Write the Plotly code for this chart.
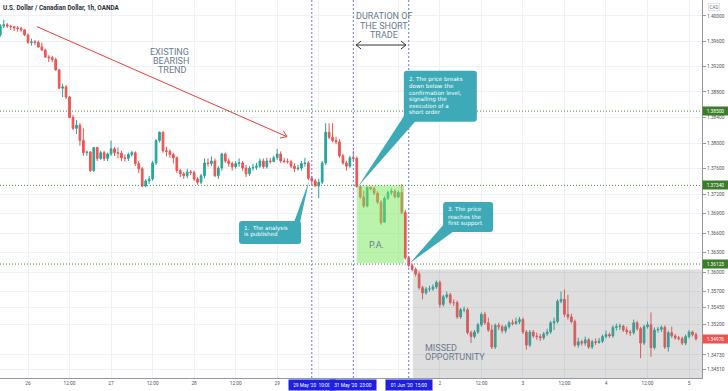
import math
import pandas as pd
import plotly.graph_objects as go

# ---------------- data ----------------
session_a = pd.date_range("2020-05-25 16:00", "2020-05-29 20:00", freq="h")
session_b = pd.date_range("2020-05-31 22:00", "2020-06-05 02:00", freq="h")
times = [t.strftime("%Y-%m-%d %H:%M") for t in list(session_a) + list(session_b)]

opens = [
    1.3970, 1.3984, 1.3986, 1.3984, 1.3983, 1.3981, 1.3980, 1.3978, 1.3970, 1.3958,
    1.3959, 1.3958, 1.3951, 1.3946, 1.3935, 1.3934, 1.3931, 1.3915, 1.3886, 1.3888,
    1.3872, 1.3840, 1.3823, 1.3828, 1.3804, 1.3785, 1.3786, 1.3757, 1.3793, 1.3776,
    1.3785, 1.3776, 1.3783, 1.3791, 1.3785, 1.3784, 1.3777, 1.3776, 1.3782, 1.3785,
    1.3768, 1.3760, 1.3733, 1.3741, 1.3744, 1.3769, 1.3804, 1.3817, 1.3788, 1.3787,
    1.3782, 1.3777, 1.3757, 1.3752, 1.3749, 1.3755, 1.3754, 1.3744, 1.3739, 1.3749,
    1.3769, 1.3768, 1.3772, 1.3749, 1.3761, 1.3783, 1.3772, 1.3768, 1.3763, 1.3768,
    1.3769, 1.3761, 1.3752, 1.3761, 1.3762, 1.3764, 1.3772, 1.3763, 1.3772, 1.3771,
    1.3777, 1.3783, 1.3772, 1.3771, 1.3771, 1.3764, 1.3760, 1.3761, 1.3768, 1.3769,
    1.3745, 1.3741, 1.3733, 1.3739, 1.3769, 1.3817, 1.3809, 1.3804, 1.3802, 1.3780,
    1.3769, 1.3764, 1.3777, 1.3776, 1.3732, 1.3716, 1.3702, 1.3731, 1.3729, 1.3722,
    1.3708, 1.3677, 1.3714, 1.3723, 1.3725, 1.3716, 1.3723, 1.3692, 1.3622, 1.3610,
    1.3604, 1.3597, 1.3576, 1.3568, 1.3574, 1.3574, 1.3577, 1.3584, 1.3550, 1.3562,
    1.3565, 1.3553, 1.3553, 1.3531, 1.3542, 1.3542, 1.3507, 1.3501, 1.3508, 1.3519,
    1.3535, 1.3522, 1.3511, 1.3485, 1.3518, 1.3516, 1.3510, 1.3516, 1.3522, 1.3521,
    1.3524, 1.3527, 1.3508, 1.3488, 1.3508, 1.3502, 1.3501, 1.3499, 1.3505, 1.3508,
    1.3522, 1.3524, 1.3555, 1.3558, 1.3535, 1.3531, 1.3524, 1.3488, 1.3493, 1.3491,
    1.3496, 1.3485, 1.3493, 1.3492, 1.3494, 1.3501, 1.3504, 1.3502, 1.3515, 1.3516,
    1.3517, 1.3511, 1.3508, 1.3507, 1.3522, 1.3513, 1.3491, 1.3516, 1.3519, 1.3484,
    1.3511, 1.3512, 1.3515, 1.3485, 1.3507, 1.3502, 1.3499, 1.3498, 1.3491, 1.3501,
    1.3508, 1.3504,
]
highs = [
    1.3987, 1.3994, 1.3989, 1.3986, 1.3984, 1.3984, 1.3983, 1.3979, 1.3972, 1.3964,
    1.3962, 1.3961, 1.3958, 1.3948, 1.3938, 1.3937, 1.3934, 1.3916, 1.3893, 1.3891,
    1.3874, 1.3844, 1.3836, 1.3831, 1.3823, 1.3788, 1.3787, 1.3794, 1.3794, 1.3788,
    1.3788, 1.3785, 1.3804, 1.3794, 1.3793, 1.3788, 1.3782, 1.3785, 1.3788, 1.3787,
    1.3772, 1.3763, 1.3744, 1.3749, 1.3772, 1.3806, 1.3818, 1.3818, 1.3794, 1.3790,
    1.3785, 1.3779, 1.3760, 1.3755, 1.3760, 1.3758, 1.3757, 1.3747, 1.3752, 1.3776,
    1.3776, 1.3779, 1.3776, 1.3764, 1.3785, 1.3785, 1.3776, 1.3771, 1.3772, 1.3776,
    1.3772, 1.3766, 1.3764, 1.3768, 1.3769, 1.3776, 1.3776, 1.3777, 1.3777, 1.3780,
    1.3791, 1.3787, 1.3777, 1.3776, 1.3774, 1.3768, 1.3766, 1.3772, 1.3777, 1.3772,
    1.3749, 1.3744, 1.3744, 1.3772, 1.3831, 1.3831, 1.3831, 1.3810, 1.3806, 1.3783,
    1.3772, 1.3780, 1.3788, 1.3779, 1.3733, 1.3726, 1.3732, 1.3732, 1.3732, 1.3725,
    1.3711, 1.3717, 1.3726, 1.3729, 1.3728, 1.3726, 1.3736, 1.3696, 1.3625, 1.3613,
    1.3607, 1.3601, 1.3579, 1.3577, 1.3579, 1.3581, 1.3587, 1.3587, 1.3565, 1.3570,
    1.3568, 1.3558, 1.3556, 1.3545, 1.3547, 1.3545, 1.3510, 1.3511, 1.3522, 1.3538,
    1.3539, 1.3530, 1.3519, 1.3521, 1.3522, 1.3519, 1.3519, 1.3525, 1.3527, 1.3530,
    1.3531, 1.3530, 1.3511, 1.3511, 1.3511, 1.3507, 1.3505, 1.3508, 1.3513, 1.3525,
    1.3530, 1.3558, 1.3570, 1.3573, 1.3565, 1.3536, 1.3527, 1.3499, 1.3496, 1.3501,
    1.3499, 1.3496, 1.3498, 1.3499, 1.3504, 1.3510, 1.3507, 1.3518, 1.3521, 1.3521,
    1.3519, 1.3516, 1.3511, 1.3527, 1.3525, 1.3516, 1.3519, 1.3524, 1.3538, 1.3515,
    1.3516, 1.3518, 1.3518, 1.3510, 1.3516, 1.3505, 1.3502, 1.3501, 1.3504, 1.3511,
    1.3510, 1.3507,
]
lows = [
    1.3967, 1.3981, 1.3981, 1.3978, 1.3976, 1.3975, 1.3975, 1.3968, 1.3956, 1.3953,
    1.3954, 1.3950, 1.3945, 1.3934, 1.3927, 1.3927, 1.3913, 1.3885, 1.3872, 1.3869,
    1.3839, 1.3820, 1.3814, 1.3796, 1.3780, 1.3780, 1.3755, 1.3755, 1.3772, 1.3774,
    1.3772, 1.3772, 1.3780, 1.3780, 1.3776, 1.3772, 1.3771, 1.3772, 1.3779, 1.3764,
    1.3753, 1.3731, 1.3731, 1.3736, 1.3741, 1.3766, 1.3801, 1.3785, 1.3779, 1.3777,
    1.3768, 1.3753, 1.3747, 1.3744, 1.3745, 1.3750, 1.3741, 1.3735, 1.3736, 1.3745,
    1.3763, 1.3764, 1.3747, 1.3744, 1.3757, 1.3769, 1.3763, 1.3757, 1.3760, 1.3763,
    1.3757, 1.3747, 1.3749, 1.3757, 1.3758, 1.3761, 1.3760, 1.3760, 1.3768, 1.3771,
    1.3774, 1.3769, 1.3769, 1.3768, 1.3761, 1.3755, 1.3757, 1.3757, 1.3763, 1.3742,
    1.3735, 1.3732, 1.3714, 1.3736, 1.3766, 1.3806, 1.3801, 1.3798, 1.3777, 1.3766,
    1.3757, 1.3761, 1.3772, 1.3731, 1.3713, 1.3699, 1.3700, 1.3726, 1.3719, 1.3705,
    1.3673, 1.3676, 1.3711, 1.3719, 1.3714, 1.3714, 1.3689, 1.3619, 1.3607, 1.3601,
    1.3593, 1.3573, 1.3558, 1.3565, 1.3570, 1.3571, 1.3574, 1.3545, 1.3547, 1.3559,
    1.3550, 1.3548, 1.3528, 1.3528, 1.3538, 1.3504, 1.3491, 1.3498, 1.3505, 1.3516,
    1.3519, 1.3508, 1.3482, 1.3482, 1.3511, 1.3506, 1.3506, 1.3513, 1.3518, 1.3519,
    1.3520, 1.3505, 1.3481, 1.3485, 1.3499, 1.3496, 1.3494, 1.3496, 1.3502, 1.3505,
    1.3511, 1.3521, 1.3552, 1.3531, 1.3527, 1.3521, 1.3485, 1.3484, 1.3487, 1.3487,
    1.3482, 1.3482, 1.3488, 1.3490, 1.3491, 1.3498, 1.3499, 1.3499, 1.3510, 1.3511,
    1.3508, 1.3504, 1.3502, 1.3504, 1.3510, 1.3468, 1.3488, 1.3513, 1.3470, 1.3481,
    1.3507, 1.3508, 1.3482, 1.3478, 1.3499, 1.3496, 1.3495, 1.3488, 1.3488, 1.3498,
    1.3501, 1.3495,
]
closes = [
    1.3984, 1.3986, 1.3984, 1.3983, 1.3981, 1.3980, 1.3978, 1.3970, 1.3958, 1.3959,
    1.3958, 1.3951, 1.3946, 1.3935, 1.3934, 1.3931, 1.3915, 1.3886, 1.3888, 1.3872,
    1.3840, 1.3823, 1.3828, 1.3804, 1.3785, 1.3786, 1.3757, 1.3793, 1.3776, 1.3785,
    1.3776, 1.3783, 1.3791, 1.3785, 1.3784, 1.3777, 1.3776, 1.3782, 1.3785, 1.3768,
    1.3760, 1.3733, 1.3741, 1.3744, 1.3769, 1.3804, 1.3817, 1.3788, 1.3787, 1.3782,
    1.3777, 1.3757, 1.3752, 1.3749, 1.3755, 1.3754, 1.3744, 1.3739, 1.3749, 1.3769,
    1.3768, 1.3772, 1.3749, 1.3761, 1.3783, 1.3772, 1.3768, 1.3763, 1.3768, 1.3769,
    1.3761, 1.3752, 1.3761, 1.3762, 1.3764, 1.3772, 1.3763, 1.3772, 1.3771, 1.3777,
    1.3783, 1.3772, 1.3771, 1.3771, 1.3764, 1.3760, 1.3761, 1.3768, 1.3769, 1.3745,
    1.3741, 1.3733, 1.3739, 1.3769, 1.3817, 1.3809, 1.3804, 1.3802, 1.3780, 1.3769,
    1.3764, 1.3777, 1.3776, 1.3732, 1.3716, 1.3702, 1.3731, 1.3729, 1.3722, 1.3708,
    1.3676, 1.3714, 1.3723, 1.3725, 1.3716, 1.3723, 1.3692, 1.3622, 1.3610, 1.3604,
    1.3597, 1.3576, 1.3568, 1.3574, 1.3574, 1.3577, 1.3584, 1.3550, 1.3562, 1.3565,
    1.3553, 1.3553, 1.3531, 1.3542, 1.3542, 1.3507, 1.3501, 1.3508, 1.3519, 1.3535,
    1.3522, 1.3511, 1.3485, 1.3518, 1.3516, 1.3510, 1.3516, 1.3522, 1.3521, 1.3524,
    1.3527, 1.3508, 1.3488, 1.3508, 1.3502, 1.3501, 1.3499, 1.3505, 1.3508, 1.3522,
    1.3524, 1.3555, 1.3558, 1.3535, 1.3531, 1.3524, 1.3488, 1.3493, 1.3491, 1.3496,
    1.3485, 1.3493, 1.3492, 1.3494, 1.3501, 1.3504, 1.3502, 1.3515, 1.3516, 1.3517,
    1.3511, 1.3508, 1.3507, 1.3522, 1.3513, 1.3491, 1.3516, 1.3519, 1.3484, 1.3511,
    1.3512, 1.3515, 1.3485, 1.3507, 1.3502, 1.3499, 1.3498, 1.3491, 1.3501, 1.3508,
    1.3504, 1.34976,
]

x_tick_times = ["2020-05-26 00:00", "2020-05-26 12:00", "2020-05-27 00:00", "2020-05-27 12:00",
                "2020-05-28 00:00", "2020-05-28 12:00", "2020-05-29 00:00", "2020-05-29 12:00",
                "2020-06-01 00:00", "2020-06-01 12:00", "2020-06-02 00:00", "2020-06-02 12:00",
                "2020-06-03 00:00", "2020-06-03 12:00", "2020-06-04 00:00", "2020-06-04 12:00",
                "2020-06-05 00:00"]
x_tick_labels = ["26", "12:00", "27", "12:00", "28", "12:00", "29", "", "", "",
                 "2", "12:00", "3", "12:00", "4", "12:00", "5"]

y_tick_values = [1.40000, 1.39600, 1.39200, 1.38800, 1.38400, 1.38000, 1.37600, 1.37200,
                 1.36900, 1.36600, 1.36300, 1.36000, 1.35700, 1.35450, 1.35200,
                 1.34730, 1.34510]
y_tick_labels = ["%.5f" % v for v in y_tick_values]

levels = [1.38500, 1.37340, 1.36123]
last_price = 1.34976
event_times = ["2020-05-29 10:00", "2020-05-31 23:00", "2020-06-01 15:00"]
event_labels = ["29 May '20  10:00", "31 May '20  23:00", "01 Jun '20  15:00"]

title_text = "U.S. Dollar / Canadian Dollar, 1h, OANDA"

# ---------------- styling ----------------
UP = "#26a69a"
DOWN = "#ef5350"
TEAL = "#3eaab7"
TXT = "#6b7a8f"
GRID = "#eff1f5"
AXIS = "#9598a1"
FONT = "Roboto"
CALLOUT_FONT = "DejaVu Sans"

idx = {t: k for k, t in enumerate(times)}


def ly(p):
    return math.log10(p)


fig = go.Figure()
fig.add_trace(go.Candlestick(
    x=times, open=opens, high=highs, low=lows, close=closes,
    increasing=dict(line=dict(color=UP, width=1), fillcolor=UP),
    decreasing=dict(line=dict(color=DOWN, width=1), fillcolor=DOWN),
    whiskerwidth=0, hoverinfo="skip", showlegend=False,
))

shapes = []
# missed opportunity (grey) and price action (green) zones
shapes.append(dict(type="rect", xref="x", yref="y", x0=119.2, x1=206, y0=1.3604, y1=1.3420,
                   fillcolor="rgba(128,128,128,0.26)", line=dict(width=0), layer="above"))
shapes.append(dict(type="rect", xref="x", yref="y", x0=103.06, x1=116.64, y0=levels[1], y1=1.36135,
                   fillcolor="rgba(120,230,90,0.5)", line=dict(width=0), layer="above"))
# horizontal levels
for lv in levels:
    shapes.append(dict(type="line", xref="paper", yref="y", x0=0, x1=1, y0=lv, y1=lv,
                       line=dict(color="#4f8a3c", width=1, dash="1px,2px"), layer="above"))
# vertical event lines
for t in event_times:
    shapes.append(dict(type="line", xref="x", yref="paper", x0=idx[t], x1=idx[t], y0=0, y1=1,
                       line=dict(color="#7272e4", width=1, dash="2px,2px"), layer="above"))
# red trend arrow
shapes.append(dict(type="line", xref="x", yref="y", x0=10.6, y0=1.3983, x1=82.8, y1=1.3810,
                   line=dict(color="#ef3b3b", width=1), layer="above"))
shapes.append(dict(type="path", xref="x", yref="y", xsizemode="pixel", ysizemode="pixel",
                   xanchor=82.8, yanchor=1.3810, path="M -6.9,-1.4 L 0,0 L -3.6,6.0",
                   line=dict(color="#ef3b3b", width=1), fillcolor="rgba(0,0,0,0)", layer="above"))
# duration double arrow
shapes.append(dict(type="line", xref="x", yref="y", x0=102.8, y0=1.3954, x1=117.2, y1=1.3954,
                   line=dict(color="#333333", width=1), layer="above"))
shapes.append(dict(type="path", xref="x", yref="y", xsizemode="pixel", ysizemode="pixel",
                   xanchor=102.8, yanchor=1.3954, path="M 5,4 L 0,0 L 5,-4",
                   line=dict(color="#333333", width=1), fillcolor="rgba(0,0,0,0)", layer="above"))
shapes.append(dict(type="path", xref="x", yref="y", xsizemode="pixel", ysizemode="pixel",
                   xanchor=117.2, yanchor=1.3954, path="M -5,4 L 0,0 L -5,-4",
                   line=dict(color="#333333", width=1), fillcolor="rgba(0,0,0,0)", layer="above"))


def rrect(x0, x1, yb, yt, r=3):
    return (f"M {x0+r},{yt} L {x1-r},{yt} Q {x1},{yt} {x1},{yt-r} L {x1},{yb+r} "
            f"Q {x1},{yb} {x1-r},{yb} L {x0+r},{yb} Q {x0},{yb} {x0},{yb+r} "
            f"L {x0},{yt-r} Q {x0},{yt} {x0+r},{yt} Z")


callouts = [
    dict(anchor=(89.2, 1.3741), box=(-70, -8, -63, -40), ptr="M -15,-41 L 0,0 L -9,-41 Z",
         lines=["1.  The analysis", "is published"], dx=-66, dys=[-47.3, -53.8]),
    dict(anchor=(103.3, 1.3732), box=(46, 119, 65, 116), ptr="M 47,72 L 0,0 L 58,66 Z",
         lines=["2. The price breaks", "down below the", "confirmation level,", "signalling the",
                "execution of a", "short order"], dx=50, dys=[107, 100.5, 94, 87.5, 81, 74.5]),
    dict(anchor=(118.4, 1.3614), box=(33, 83, 31, 61), ptr="M 34,39 L 0,0 L 44,32 Z",
         lines=["3. The price", "reaches the", "first support"], dx=37, dys=[53, 46.3, 39.8]),
]
annotations = []
for c in callouts:
    ax_, ay_ = c["anchor"]
    for p in (rrect(*c["box"]), c["ptr"]):
        shapes.append(dict(type="path", xref="x", yref="y", xsizemode="pixel", ysizemode="pixel",
                           xanchor=ax_, yanchor=ay_, path=p, fillcolor=TEAL,
                           line=dict(width=0), layer="above"))
    for line, dy in zip(c["lines"], c["dys"]):
        annotations.append(dict(x=ax_, y=ly(ay_), xref="x", yref="y", xshift=c["dx"], yshift=dy,
                                text=line, showarrow=False, xanchor="left", yanchor="middle",
                                borderpad=0,
                                font=dict(family=CALLOUT_FONT, size=5.6, color="white")))

# big labels
big = [("EXISTING", 49.0, 1.3943, "center"), ("BEARISH", 49.3, 1.3929, "center"),
       ("TREND", 49.5, 1.3915, "center"),
       ("DURATION OF", 111.0, 1.4000, "center"), ("THE SHORT", 111.0, 1.3984, "center"),
       ("TRADE", 111.0, 1.3970, "center"),
       ("P.A.", 108.8, 1.3642, "center"),
       ("MISSED", 122.1, 1.3484, "left"), ("OPPORTUNITY", 122.1, 1.3470, "left")]
for txt, xi, p, anc in big:
    annotations.append(dict(x=xi, y=ly(p), xref="x", yref="y", text=txt, showarrow=False,
                            xanchor=anc, yanchor="middle",
                            font=dict(family=FONT, size=9, color=TXT)))

# title
annotations.append(dict(x=0, y=1, xref="paper", yref="paper", xshift=1, yshift=-1.5, text=title_text,
                        showarrow=False, xanchor="left", yanchor="top",
                        font=dict(family=FONT, size=6.4, color="#2a2e39", weight="bold")))
# CAD box
annotations.append(dict(x=1, y=1, xref="paper", yref="paper", xshift=12, yshift=-3, text="CAD",
                        showarrow=False, xanchor="center", yanchor="top", bordercolor="#d1d4dc",
                        borderwidth=0.6, borderpad=1, bgcolor="white",
                        font=dict(family=FONT, size=4.5, color="#6a6d78")))
# level price labels
for lv in levels:
    annotations.append(dict(x=1, y=ly(lv), xref="paper", yref="y", text="%.5f" % lv, showarrow=False,
                            xanchor="left", yanchor="middle", bgcolor="#3b7d2a", width=24, height=7,
                            borderpad=0.5, font=dict(family=FONT, size=4.8, color="white")))
annotations.append(dict(x=1, y=ly(last_price), xref="paper", yref="y", text="%.5f" % last_price,
                        showarrow=False, xanchor="left", yanchor="middle", bgcolor=DOWN, width=24,
                        height=7, borderpad=0.5, font=dict(family=FONT, size=4.8, color="white")))
# event time labels
for t, lab in zip(event_times, event_labels):
    annotations.append(dict(x=idx[t], y=0, xref="x", yref="paper", yshift=-1, text=lab,
                            showarrow=False, xanchor="center", yanchor="top", bgcolor="#2020e4",
                            width=45, height=9, borderpad=0.5,
                            font=dict(family=FONT, size=4.8, color="white")))

fig.update_layout(
    width=728, height=391,
    margin=dict(l=0, r=26, t=0, b=13),
    paper_bgcolor="white", plot_bgcolor="white",
    shapes=shapes, annotations=annotations, showlegend=False,
    xaxis=dict(type="category", range=[-0.09, 202.74], tickmode="array",
               tickvals=x_tick_times, ticktext=x_tick_labels, showgrid=True, gridcolor=GRID,
               gridwidth=1, showline=True, linecolor=AXIS, linewidth=1, ticks="",
               tickfont=dict(family=FONT, size=4.8, color="#50535e"),
               rangeslider=dict(visible=False), zeroline=False, fixedrange=True),
    yaxis=dict(type="log", side="right", range=[ly(1.34378), ly(1.40253)], tickmode="array",
               tickvals=y_tick_values, ticktext=y_tick_labels, showgrid=True, gridcolor=GRID,
               gridwidth=1, showline=True, linecolor=AXIS, linewidth=1, ticks="outside",
               ticklen=3, tickcolor=AXIS, tickfont=dict(family=FONT, size=4.8, color="#50535e"),
               zeroline=False, fixedrange=True),
)

fig.write_html("out.html")
